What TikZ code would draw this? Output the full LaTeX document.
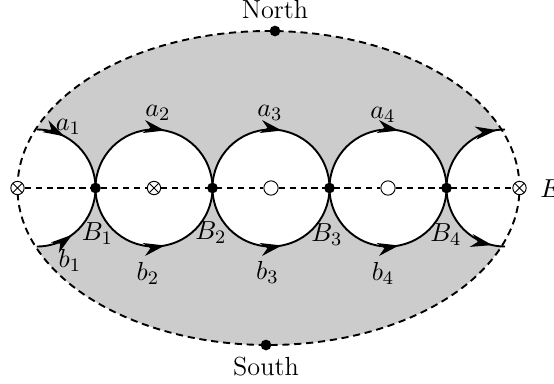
\documentclass[tikz,border=0pt]{standalone}
\usepackage{amsmath}
\usepackage{tikz}
\usetikzlibrary{arrows.meta,calc,decorations.markings}
\definecolor{regiongrey}{RGB}{204,204,204}
\tikzset{
  boundary/.style={draw=black,thick,dash pattern=on 3pt off 2pt},
  axisline/.style={draw=black,thick,dash pattern=on 2.6pt off 2pt},
  loopline/.style={draw=black,thick},
  arrowat/.style={postaction={decorate},decoration={markings,
    mark=at position #1 with {\arrow{Stealth[length=9pt,width=5.5pt,inset=2.8pt]}}}},
  branchpt/.style={circle,fill=black,inner sep=0pt,minimum size=4.5pt},
  crosspt/.style={circle,draw=black,fill=white,inner sep=0pt,minimum size=5.6pt,
    path picture={\draw[thin] (path picture bounding box.north west) -- (path picture bounding box.south east)
      (path picture bounding box.north east) -- (path picture bounding box.south west);}},
  holept/.style={circle,draw=black,fill=white,inner sep=0pt,minimum size=6pt},
  poledot/.style={circle,fill=black,inner sep=0pt,minimum size=4.5pt},
  marklabel/.style={font=\fontsize{11}{13}\selectfont}
}
\begin{document}
\begin{tikzpicture}[x=0.42pt,y=0.42pt]
  \useasboundingbox (-268.5,-195) rectangle (285.5,188);
  \coordinate (O) at (0,0);
  \foreach \i/\x in {1/-173,2/-56,3/61,4/178}
    \coordinate (B\i) at (\x,0);
  \begin{scope}
    \clip (O) ellipse [x radius=251,y radius=157];
    \fill[regiongrey] (O) ellipse [x radius=251,y radius=157];
    \foreach \x in {-231.5,-114.5,2.5,119.5,236.5}
      \fill[white] (\x,0) circle [radius=58.5];
  \end{scope}
  \draw[boundary] (O) ellipse [x radius=251,y radius=157];
  \node[crosspt] (wcross) at (-251,0) {};
  \node[crosspt] (ecross) at (251,0) {};
  \node[crosspt] (c1) at (-114.5,0) {};
  \node[holept] (c2) at (2.5,0) {};
  \node[holept] (c3) at (119.5,0) {};
  \draw[axisline] (wcross) -- (c1) -- (c2) -- (c3) -- (ecross);
  \draw[loopline,arrowat=0.31] ($(B1)+(-58.5,58.5)$) arc[start angle=90,end angle=0,radius=58.5];
  \draw[loopline,arrowat=0.41] ($(B1)+(-58.5,-58.5)$) arc[start angle=270,end angle=360,radius=58.5];
  \foreach \i in {1,2,3} {
    \draw[loopline,arrowat=0.56] (B\i) arc[start angle=180,end angle=0,radius=58.5];
    \draw[loopline,arrowat=0.56] (B\i) arc[start angle=180,end angle=360,radius=58.5];
  }
  \draw[loopline,arrowat=0.91] (B4) arc[start angle=180,end angle=90,radius=58.5];
  \draw[loopline,arrowat=0.86] (B4) arc[start angle=180,end angle=270,radius=58.5];
  \foreach \i in {1,...,4}
    \node[branchpt] (dot\i) at (B\i) {};
  \foreach \i/\x/\y in {1/-200/61,2/-110.5/75,3/1.5/75,4/114.5/73}
    \node[marklabel] (a\i) at (\x,\y) {$a_\i$};
  \foreach \i/\x/\y in {1/-198.5/-72,2/-120.5/-85,3/-1/-84,4/114.5/-85}
    \node[marklabel] (b\i) at (\x,\y) {$b_\i$};
  \foreach \i/\x/\y in {1/-171/-46,2/-57.5/-45,3/58.5/-47,4/177.5/-47}
    \node[marklabel] (Blabel\i) at (\x,\y) {$B_\i$};
  \node[poledot] (north) at (6.5,157) {};
  \node[poledot] (south) at (-2.5,-157) {};
  \node[marklabel] (northlabel) at (6.5,178) {North};
  \node[marklabel] (southlabel) at (-2.5,-179) {South};
  \node[marklabel,anchor=west,inner sep=0pt] (elabel) at (271.5,-1) {$E$};
\end{tikzpicture}
\end{document}
